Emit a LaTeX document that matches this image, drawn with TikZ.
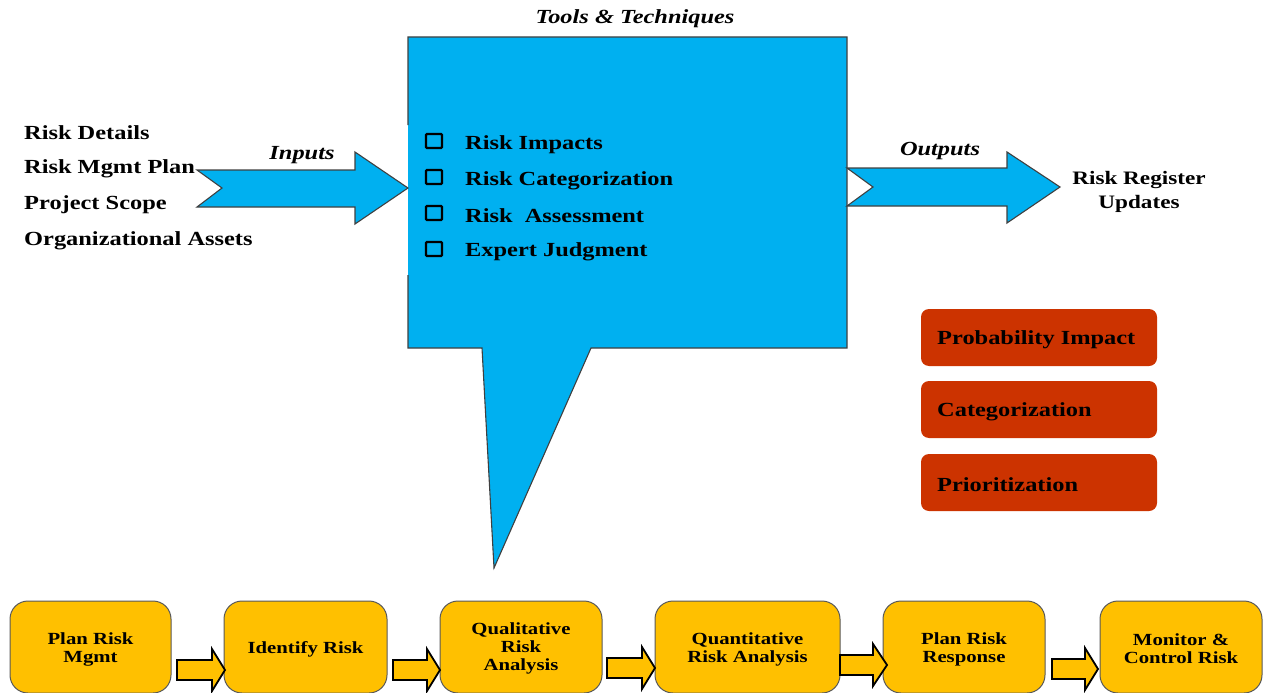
\documentclass[tikz,border=0pt]{standalone}
\usepackage{fontspec}
\setmainfont{Liberation Serif}[FakeStretch=1.22]
\definecolor{cyanfill}{HTML}{00B0F0}
\definecolor{yfill}{HTML}{FFC000}
\definecolor{rfill}{HTML}{CC3300}
\definecolor{edgegray}{HTML}{404040}
\tikzset{
  edge/.style={draw=edgegray, line width=1.1pt, line join=miter},
  bigarrow/.style={fill=cyanfill, draw=edgegray, line width=1.1pt},
  leftlbl/.style={anchor=west, inner sep=0pt, font=\bfseries\fontsize{20}{24}\selectfont},
  itemlbl/.style={anchor=west, inner sep=0pt, font=\bfseries\fontsize{20}{24}\selectfont},
  ital/.style={inner sep=0pt, font=\bfseries\itshape\fontsize{20}{24}\selectfont},
  chk/.style={draw=black, line width=2.2pt, minimum width=16pt, minimum height=14pt, inner sep=0pt, rounded corners=1pt},
  ybox/.style={draw=gray!70!black, line width=1pt, fill=yfill, rounded corners=18pt, minimum height=92pt, inner sep=0pt},
  ytext/.style={align=center, inner sep=0pt, font=\bfseries\fontsize{17}{18}\selectfont},
  yarrow/.style={fill=yfill, draw=black, line width=1.8pt, line join=miter},
  rbox/.style={fill=rfill, rounded corners=8pt, minimum width=236pt, minimum height=57pt},
  rtext/.style={anchor=west, inner sep=0pt, font=\bfseries\fontsize{20}{24}\selectfont}
}
\newcommand\blockarr[4]{\draw[yarrow] (#1,#4-10) -- (#2,#4-10) -- (#2,#4-21) -- (#3,#4) -- (#2,#4+21) -- (#2,#4+10) -- (#1,#4+10) -- cycle;}
\begin{document}
\begin{tikzpicture}[x=1pt,y=-1pt]
\useasboundingbox (0,0) rectangle (1266,693);

% callout box
\coordinate (ctl) at (408,37);
\coordinate (ctr) at (847,37);
\coordinate (cbr) at (847,348);
\coordinate (cbl) at (408,348);
\coordinate (ptip) at (494,568);
\fill[cyanfill] (ctl) -- (ctr) -- (cbr) -- (591,348) -- (ptip) -- (482,348) -- (cbl) -- cycle;
\draw[edge] (408,125) -- (ctl) -- (ctr) -- (cbr) -- (591,348) -- (ptip) -- (482,348) -- (cbl) -- (408,275);

\node[ital] (tools) at (635,19) {Tools \& Techniques};

% input arrow
\draw[bigarrow] (197,170) -- (355,170) -- (355,152) -- (408,188) -- (355,224) -- (355,207) -- (197,207) -- (222,188) -- cycle;
\node[ital] (inputs) at (302,155) {Inputs};

% output arrow
\draw[bigarrow] (847,168) -- (1007,168) -- (1007,152) -- (1060,187) -- (1007,223) -- (1007,206) -- (847,206) -- (873,187) -- cycle;
\node[ital] (outputs) at (940,151) {Outputs};

% left inputs
\node[leftlbl] (in1) at (24,133) {Risk Details};
\node[leftlbl] (in2) at (24,169) {Risk Mgmt Plan};
\node[leftlbl] (in3) at (24,205) {Project Scope};
\node[leftlbl] (in4) at (24,241) {Organizational Assets};

% items
\node[chk] (k1) at (434,141) {};
\node[chk] (k2) at (434,177) {};
\node[chk] (k3) at (434,213) {};
\node[chk] (k4) at (434,249) {};
\node[itemlbl] (t1) at (465,145) {Risk Impacts};
\node[itemlbl] (t2) at (465,181) {Risk Categorization};
\node[itemlbl] (t3) at (465,216) {Risk\ \ Assessment};
\node[itemlbl] (t4) at (465,252) {Expert Judgment};

% outputs text
\node[align=center, inner sep=0pt, font=\bfseries\fontsize{19}{24}\selectfont] (out) at (1139,192) {Risk Register\\Updates};

% red boxes
\node[rbox] (r1) at (1039,337.5) {};
\node[rbox] (r2) at (1039,409.5) {};
\node[rbox] (r3) at (1039,482.5) {};
\node[rtext] (r1t) at (937,340) {Probability Impact};
\node[rtext] (r2t) at (937,412) {Categorization};
\node[rtext] (r3t) at (937,485) {Prioritization};

% process boxes
\node[ybox, minimum width=161pt] (b1) at (90.5,647) {};
\node[ybox, minimum width=163pt] (b2) at (305.5,647) {};
\node[ybox, minimum width=162pt] (b3) at (521,647) {};
\node[ybox, minimum width=185pt] (b4) at (747.5,647) {};
\node[ybox, minimum width=162pt] (b5) at (964,647) {};
\node[ybox, minimum width=162pt] (b6) at (1181,647) {};
\node[ytext] (b1t) at ([yshift=-2pt]b1.center) {Plan Risk\\Mgmt};
\node[ytext] (b2t) at ([yshift=-2pt]b2.center) {Identify Risk};
\node[ytext] (b3t) at ([yshift=-1pt]b3.center) {Qualitative\\Risk\\Analysis};
\node[ytext] (b4t) at ([yshift=-2pt]b4.center) {Quantitative\\Risk Analysis};
\node[ytext] (b5t) at ([yshift=-2pt]b5.center) {Plan Risk\\Response};
\node[ytext] (b6t) at ([yshift=-2pt]b6.center) {Monitor \&\\Control Risk};

% block arrows
\blockarr{177}{212}{225}{670}
\blockarr{393}{427}{440}{670}
\blockarr{607}{642}{655}{668}
\blockarr{840}{873}{887}{665}
\blockarr{1052}{1085}{1098}{669}
\end{tikzpicture}
\end{document}
